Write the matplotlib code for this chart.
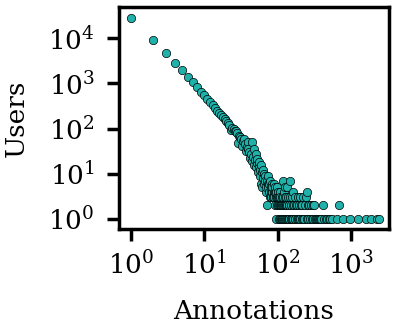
import matplotlib
matplotlib.use("Agg")
import matplotlib.pyplot as plt
import numpy as np

# number of annotations per user -> how many users made that many
annotations = [
    1, 2, 3, 4, 5, 6, 7, 8, 9, 10,
    11, 12, 13, 14, 15, 16, 17, 18, 19, 20,
    21, 22, 23, 24, 25, 26, 27, 28, 29, 30,
    31, 32, 33, 34, 35, 36, 37, 38, 39, 40,
    41, 42, 43, 44, 45, 46, 47, 48, 49, 50,
    51, 52, 53, 54, 55, 56, 57, 58, 59, 60,
    61, 62, 63, 64, 65, 66, 67, 68, 69, 70,
    71, 72, 73, 74, 75, 76, 77, 78, 79, 80,
    81, 82, 83, 84, 85, 86, 87, 88, 89, 90,
    91, 92, 93, 94, 95, 96, 97, 98, 99, 100,
    101, 102, 103, 104, 105, 106, 107, 108, 109, 110,
    111, 112, 113, 114, 115, 116, 117, 118, 119, 120,
    121, 122, 123, 124, 125, 126, 127, 128, 129, 130,
    132, 133, 135, 136, 138, 139, 141, 142, 144, 145,
    147, 148, 150, 152, 154, 156, 158, 160, 162, 164,
    167, 170, 172, 175, 178, 181, 184, 187, 190, 194,
    197, 200, 204, 208, 212, 216, 221, 225, 230, 235,
    243, 248, 250, 256, 262, 270, 278, 285, 292, 300,
    308, 316, 325, 335, 346, 358, 370, 383, 395, 417,
    430, 450, 470, 495, 520, 550, 640, 680, 780, 960,
    1240, 1600, 1900, 2270, 2430,
]
users = [
    28000, 9100, 4650, 2800, 2000, 1360, 1070, 850, 660, 550,
    450, 390, 335, 290, 250, 225, 198, 180, 160, 148,
    135, 122, 92, 104, 96, 90, 88, 78, 48, 70,
    64, 58, 42, 52, 60, 45, 32, 40, 50, 36,
    30, 22, 28, 51, 19, 24, 35, 16, 20, 28,
    14, 17, 21, 11, 15, 18, 9, 12, 16, 6,
    11, 5, 12, 8, 10, 6, 9, 7, 4, 5,
    2, 7, 6, 5, 9, 4, 6, 3, 7, 4,
    5, 3, 6, 4, 5, 3, 3, 4, 6, 3,
    4, 2, 5, 3, 1, 4, 2, 3, 5, 2,
    4, 3, 1, 2, 3, 4, 2, 1, 3, 2,
    1, 2, 3, 1, 2, 1, 3, 7, 2, 1,
    2, 4, 1, 2, 3, 5, 1, 2, 1, 3,
    2, 1, 5, 2, 1, 3, 2, 1, 2, 1,
    3, 7, 1, 2, 1, 3, 1, 4, 2, 1,
    2, 1, 3, 1, 2, 1, 2, 1, 3, 1,
    2, 3, 1, 2, 1, 2, 1, 3, 1, 2,
    3, 1, 4, 2, 1, 2, 1, 2, 1, 2,
    1, 2, 1, 1, 1, 1, 1, 1, 1, 2,
    1, 1, 1, 1, 1, 1, 1, 2, 1, 1,
    1, 1, 1, 1, 1,
]

plt.rcParams["font.family"] = "DejaVu Serif"

fig = plt.figure(figsize=(4.0, 3.31), dpi=100)
ax = fig.add_axes([0.2975, 0.308, 0.675, 0.671])

ax.scatter(annotations, users, s=36, color="#20B2AA", edgecolor="black",
           linewidth=0.5, zorder=3)

ax.set_xscale("log")
ax.set_yscale("log")
ax.set_xlim(0.686, 3300)
ax.set_ylim(0.6, 49000)
ax.set_xticks([1, 10, 100, 1000])
ax.set_yticks([1, 10, 100, 1000, 10000])
ax.minorticks_off()

ax.set_xlabel("Annotations", fontsize=19, labelpad=14)
ax.set_ylabel("Users", fontsize=19, labelpad=14)
ax.tick_params(axis="both", labelsize=19, length=8.5, width=2.5)
ax.tick_params(axis="x", pad=7.5)
ax.tick_params(axis="y", pad=9)
for sp in ax.spines.values():
    sp.set_linewidth(2.5)

fig.savefig("out.png", dpi=100)
